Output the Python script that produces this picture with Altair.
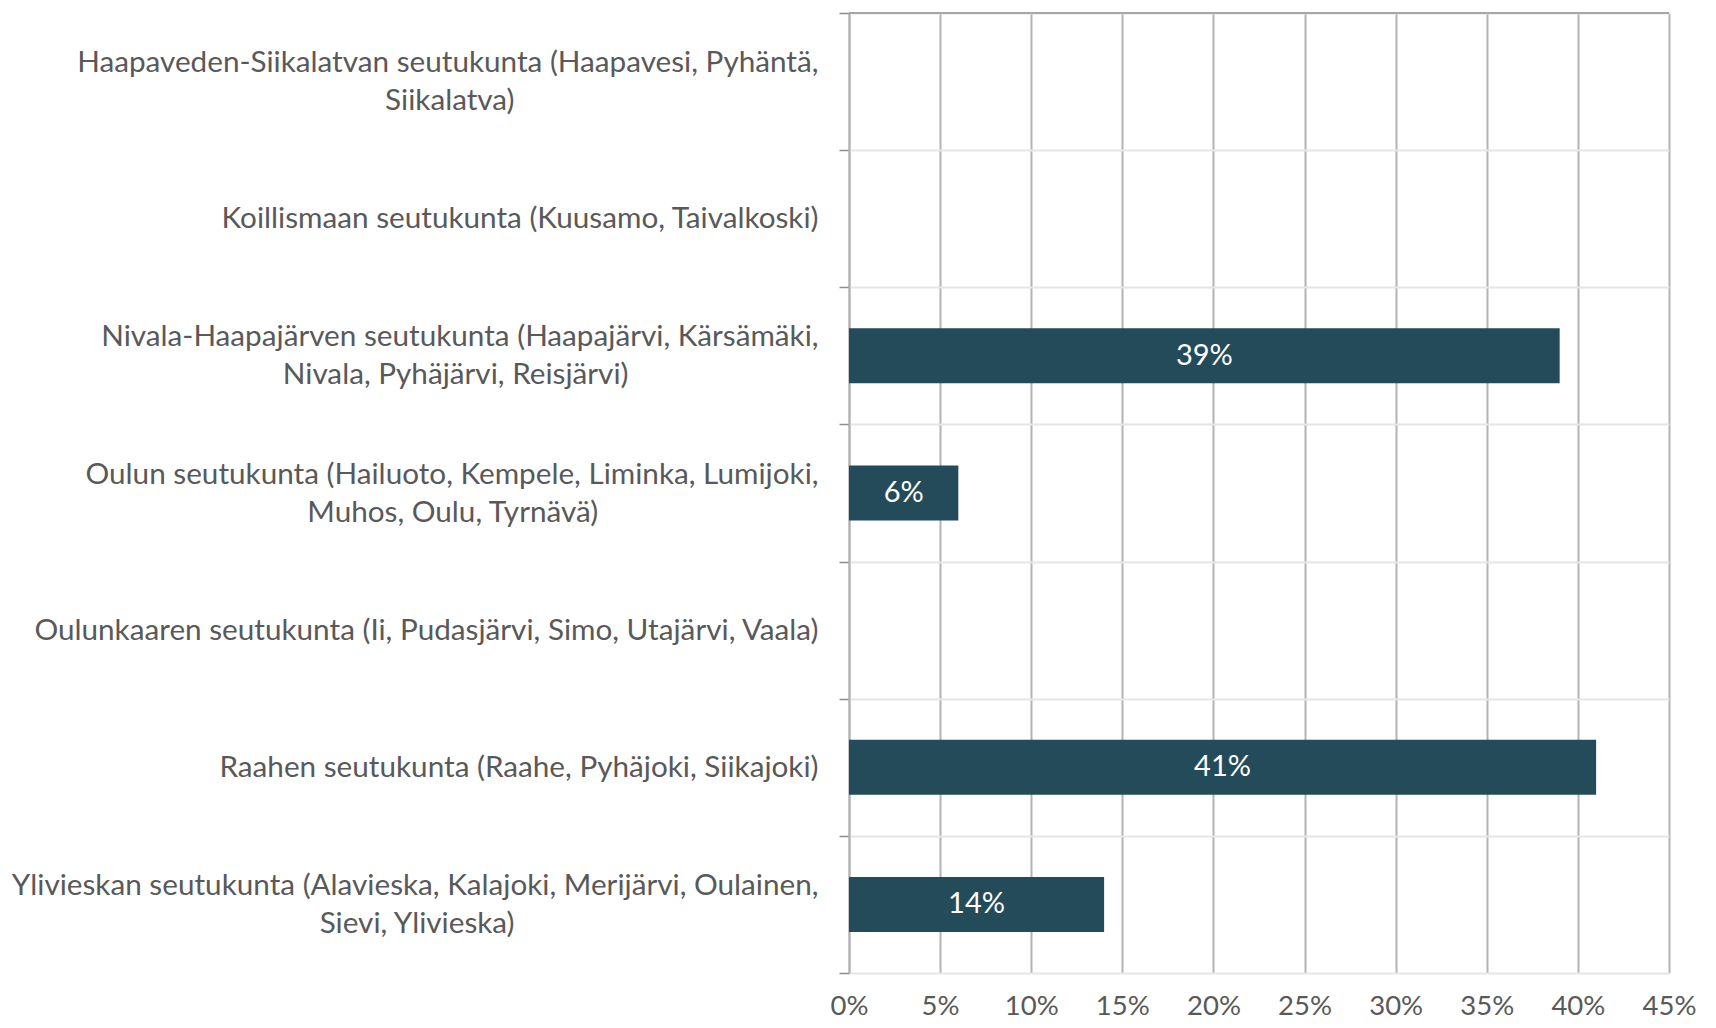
import altair as alt
import pandas as pd

line1 = [
    "Haapaveden-Siikalatvan seutukunta (Haapavesi, Pyhäntä,",
    "Koillismaan seutukunta (Kuusamo, Taivalkoski)",
    "Nivala-Haapajärven seutukunta (Haapajärvi, Kärsämäki,",
    "Oulun seutukunta (Hailuoto, Kempele, Liminka, Lumijoki,",
    "Oulunkaaren seutukunta (Ii, Pudasjärvi, Simo, Utajärvi, Vaala)",
    "Raahen seutukunta (Raahe, Pyhäjoki, Siikajoki)",
    "Ylivieskan seutukunta (Alavieska, Kalajoki, Merijärvi, Oulainen,",
]
line2 = [
    "Siikalatva)",
    "",
    "Nivala, Pyhäjärvi, Reisjärvi)",
    "Muhos, Oulu, Tyrnävä)",
    "",
    "",
    "Sievi, Ylivieska)",
]
values = [None, None, 0.39, 0.06, None, 0.41, 0.14]
x_ticks = [0, 0.05, 0.10, 0.15, 0.20, 0.25, 0.30, 0.35, 0.40, 0.45]

# approximate glyph widths (em) used only to centre the second label line under the first
_W = {
    "a": .51, "b": .56, "c": .46, "d": .56, "e": .52, "f": .32, "g": .50, "h": .56,
    "i": .24, "j": .24, "k": .50, "l": .24, "m": .84, "n": .56, "o": .56, "p": .56,
    "r": .36, "s": .42, "t": .35, "u": .56, "v": .51, "y": .51, "ä": .51, "ö": .56,
    "H": .73, "K": .66, "N": .74, "O": .76, "R": .61, "S": .52, "T": .59, "Y": .62,
    "I": .28, "M": .90, " ": .26, ",": .22, "(": .30, ")": .30, "-": .35,
}
NBSP_W = 0.2556


def _w(s):
    return sum(_W.get(c, .53) for c in s)


categories = []
for a, b in zip(line1, line2):
    if b:
        pad = max(0, round((_w(a) - _w(b)) / 2 / NBSP_W))
        categories.append(a + "\n" + b + "\u00a0" * pad + "\u200b")
    else:
        categories.append(a)

df = pd.DataFrame({"cat": categories, "v": values})

FONT = "Lato"
BAR = "#234B59"
GRAY_TXT = "#595959"

y_enc = alt.Y(
    "cat:N",
    title=None,
    scale=alt.Scale(domain=categories, paddingInner=0, paddingOuter=0),
    axis=alt.Axis(
        tickBand="extent",
        grid=True,
        gridColor="#e6e6e6",
        gridWidth=2,
        ticks=True,
        tickColor="#8c8c8c",
        tickSize=10,
        tickWidth=1.5,
        domain=True,
        domainColor="#b3b3b3",
        domainWidth=2,
        labelExpr="split(datum.label, '\\n')",
        labelFont=FONT,
        labelFontSize=29.7,
        labelColor=GRAY_TXT,
        labelLineHeight=38,
        labelPadding=21,
        labelLimit=900,
        labelAlign="right",
        labelBaseline={
            "condition": {"test": "indexof('' + datum.value, '\\n') >= 0", "value": "line-bottom"},
            "value": "middle",
        },
    ),
)

x_enc = alt.X(
    "v:Q",
    title=None,
    scale=alt.Scale(domain=[0, 0.45], nice=False),
    axis=alt.Axis(
        values=x_ticks,
        format=".0%",
        grid=True,
        gridColor="#b3b3b3",
        gridWidth=2,
        ticks=False,
        domain=False,
        labelFont=FONT,
        labelFontSize=27.5,
        labelColor=GRAY_TXT,
        labelPadding=19,
        labelFlush=False,
    ),
)

base = alt.Chart(df)

bars = (
    base.transform_filter("isValid(datum.v)")
    .mark_bar(color=BAR, size=55)
    .encode(x=x_enc, y=y_enc)
)

labels = (
    base.transform_filter("isValid(datum.v)")
    .transform_calculate(mid="datum.v / 2", txt="format(datum.v, '.0%')")
    .mark_text(color="white", font=FONT, fontSize=29, baseline="middle", align="center")
    .encode(x=alt.X("mid:Q"), y=alt.Y("cat:N"), text="txt:N")
)

top_line = alt.Chart(pd.DataFrame({"a": [0]})).mark_rule(color="#a6a6a6", strokeWidth=2).encode(
    y=alt.value(0)
)

chart = (
    alt.layer(bars, labels, top_line)
    .properties(
        width=820,
        height=960,
        autosize=alt.AutoSizeParams(type="none"),
        padding={"left": 841, "top": 5, "right": 30, "bottom": 47},
    )
    .configure_view(stroke=None)
)

chart.save("out.html", embed_options={"renderer": "svg", "actions": False})
